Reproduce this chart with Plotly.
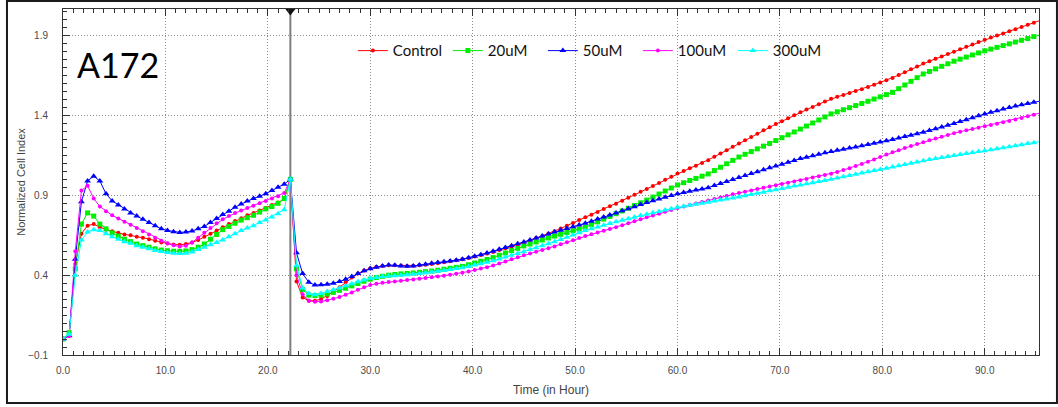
import numpy as np
import plotly.graph_objects as go

# Sampling schedule (hours): one reading every 0.6 h over the whole run
time_h = np.round(np.arange(0, 95.41, 0.6), 1)
treatment_time = 22.2

series_names = ["Control", "20uM", "50uM", "100uM", "300uM"]

# Normalized cell index per condition (first 38 readings: before treatment)
control = [
    0.0, 0.02, 0.47, 0.66, 0.71, 0.72, 0.70, 0.685, 0.675, 0.665,
    0.655, 0.65, 0.64, 0.635, 0.625, 0.615, 0.605, 0.598, 0.592, 0.59,
    0.595, 0.605, 0.62, 0.64, 0.66, 0.68, 0.70, 0.72, 0.74, 0.757,
    0.775, 0.79, 0.805, 0.82, 0.84, 0.855, 0.875, 1.0,
    0.36, 0.26, 0.24, 0.24, 0.25, 0.27, 0.295, 0.325, 0.355, 0.385,
    0.41, 0.43, 0.443, 0.452, 0.458, 0.462, 0.462, 0.46, 0.458, 0.459,
    0.462, 0.466, 0.47, 0.475, 0.481, 0.487, 0.493, 0.50, 0.508, 0.517,
    0.526, 0.535, 0.545, 0.557, 0.568, 0.58, 0.591, 0.603, 0.617, 0.632,
    0.646, 0.661, 0.675, 0.692, 0.71, 0.727, 0.745, 0.762, 0.779, 0.796,
    0.814, 0.831, 0.848, 0.866, 0.885, 0.903, 0.922, 0.94, 0.959, 0.978,
    0.998, 1.017, 1.036, 1.053, 1.07, 1.086, 1.103, 1.12, 1.141, 1.162,
    1.183, 1.204, 1.225, 1.245, 1.266, 1.286, 1.307, 1.327, 1.346, 1.364,
    1.383, 1.401, 1.42, 1.437, 1.454, 1.471, 1.488, 1.505, 1.517, 1.529,
    1.541, 1.553, 1.565, 1.579, 1.593, 1.607, 1.621, 1.635, 1.653, 1.671,
    1.689, 1.707, 1.725, 1.74, 1.755, 1.77, 1.785, 1.80, 1.815, 1.83,
    1.845, 1.86, 1.875, 1.888, 1.901, 1.914, 1.927, 1.94, 1.954, 1.968,
    1.981, 1.995,
]
um20 = [
    0.0, 0.04, 0.44, 0.72, 0.79, 0.77, 0.72, 0.69, 0.665, 0.645,
    0.625, 0.61, 0.595, 0.585, 0.575, 0.565, 0.557, 0.553, 0.55, 0.549,
    0.552, 0.56, 0.575, 0.595, 0.625, 0.655, 0.685, 0.705, 0.725, 0.745,
    0.76, 0.775, 0.795, 0.815, 0.83, 0.85, 0.88, 1.0,
    0.44, 0.31, 0.275, 0.272, 0.275, 0.282, 0.292, 0.305, 0.318, 0.333,
    0.348, 0.362, 0.375, 0.385, 0.393, 0.40, 0.404, 0.408, 0.411, 0.414,
    0.418, 0.422, 0.426, 0.431, 0.437, 0.443, 0.449, 0.455, 0.465, 0.476,
    0.487, 0.498, 0.51, 0.525, 0.539, 0.554, 0.568, 0.583, 0.595, 0.608,
    0.62, 0.633, 0.645, 0.656, 0.667, 0.678, 0.689, 0.70, 0.717, 0.734,
    0.751, 0.768, 0.785, 0.802, 0.819, 0.836, 0.853, 0.87, 0.889, 0.908,
    0.927, 0.946, 0.965, 0.979, 0.993, 1.006, 1.02, 1.034, 1.055, 1.076,
    1.098, 1.119, 1.14, 1.157, 1.174, 1.191, 1.208, 1.225, 1.243, 1.261,
    1.279, 1.297, 1.315, 1.334, 1.353, 1.372, 1.391, 1.41, 1.423, 1.436,
    1.449, 1.462, 1.475, 1.489, 1.503, 1.517, 1.531, 1.545, 1.568, 1.591,
    1.614, 1.637, 1.66, 1.676, 1.692, 1.708, 1.724, 1.74, 1.753, 1.766,
    1.779, 1.792, 1.805, 1.816, 1.827, 1.838, 1.849, 1.86, 1.871, 1.882,
    1.894, 1.905,
]
um50 = [
    0.0, 0.02, 0.50, 0.86, 0.99, 1.02, 0.99, 0.91, 0.865, 0.84,
    0.815, 0.79, 0.77, 0.75, 0.73, 0.71, 0.69, 0.68, 0.672, 0.668,
    0.67, 0.677, 0.69, 0.705, 0.73, 0.755, 0.78, 0.80, 0.825, 0.845,
    0.865, 0.88, 0.895, 0.91, 0.93, 0.95, 0.97, 1.0,
    0.54, 0.41, 0.355, 0.338, 0.34, 0.343, 0.35, 0.36, 0.375, 0.392,
    0.41, 0.428, 0.44, 0.45, 0.458, 0.463, 0.462, 0.458, 0.456, 0.458,
    0.463, 0.469, 0.475, 0.479, 0.484, 0.489, 0.494, 0.50, 0.509, 0.518,
    0.528, 0.539, 0.55, 0.562, 0.573, 0.585, 0.596, 0.608, 0.62, 0.633,
    0.645, 0.658, 0.67, 0.681, 0.692, 0.703, 0.714, 0.725, 0.738, 0.751,
    0.764, 0.777, 0.79, 0.803, 0.816, 0.829, 0.842, 0.855, 0.866, 0.877,
    0.888, 0.899, 0.91, 0.918, 0.925, 0.933, 0.94, 0.948, 0.961, 0.974,
    0.986, 0.999, 1.012, 1.024, 1.036, 1.048, 1.06, 1.072, 1.084, 1.095,
    1.107, 1.118, 1.13, 1.139, 1.148, 1.157, 1.166, 1.175, 1.182, 1.189,
    1.196, 1.203, 1.21, 1.218, 1.226, 1.234, 1.242, 1.25, 1.259, 1.268,
    1.277, 1.286, 1.295, 1.306, 1.317, 1.328, 1.339, 1.35, 1.362, 1.374,
    1.386, 1.398, 1.41, 1.42, 1.43, 1.44, 1.45, 1.46, 1.468, 1.475,
    1.483, 1.49,
]
um100 = [
    0.0, 0.02, 0.55, 0.93, 0.96, 0.88, 0.83, 0.80, 0.775, 0.755,
    0.735, 0.715, 0.695, 0.675, 0.655, 0.635, 0.615, 0.60, 0.587, 0.58,
    0.585, 0.605, 0.635, 0.665, 0.695, 0.725, 0.75, 0.77, 0.79, 0.805,
    0.82, 0.835, 0.85, 0.865, 0.88, 0.895, 0.915, 1.0,
    0.40, 0.28, 0.24, 0.233, 0.235, 0.243, 0.252, 0.263, 0.277, 0.292,
    0.308, 0.325, 0.338, 0.346, 0.352, 0.357, 0.361, 0.365, 0.369, 0.373,
    0.377, 0.382, 0.387, 0.392, 0.397, 0.403, 0.409, 0.415, 0.423, 0.432,
    0.441, 0.45, 0.46, 0.473, 0.486, 0.499, 0.512, 0.525, 0.536, 0.547,
    0.558, 0.569, 0.58, 0.593, 0.606, 0.619, 0.632, 0.645, 0.656, 0.667,
    0.678, 0.689, 0.70, 0.712, 0.725, 0.737, 0.75, 0.762, 0.774, 0.785,
    0.797, 0.808, 0.82, 0.83, 0.839, 0.849, 0.858, 0.868, 0.877, 0.887,
    0.896, 0.906, 0.915, 0.923, 0.931, 0.939, 0.947, 0.955, 0.963, 0.971,
    0.979, 0.987, 0.995, 1.003, 1.011, 1.019, 1.027, 1.035, 1.046, 1.058,
    1.07, 1.083, 1.096, 1.11, 1.125, 1.14, 1.155, 1.17, 1.183, 1.196,
    1.209, 1.221, 1.233, 1.245, 1.256, 1.267, 1.278, 1.289, 1.298, 1.307,
    1.315, 1.324, 1.332, 1.341, 1.349, 1.358, 1.366, 1.375, 1.385, 1.395,
    1.405, 1.415,
]
um300 = [
    0.0, 0.03, 0.40, 0.62, 0.67, 0.685, 0.68, 0.66, 0.64, 0.625,
    0.61, 0.60, 0.585, 0.575, 0.565, 0.555, 0.548, 0.542, 0.537, 0.535,
    0.537, 0.545, 0.56, 0.575, 0.59, 0.605, 0.62, 0.64, 0.66, 0.68,
    0.695, 0.71, 0.73, 0.745, 0.765, 0.785, 0.81, 1.0,
    0.46, 0.32, 0.285, 0.278, 0.285, 0.297, 0.308, 0.32, 0.333, 0.346,
    0.358, 0.37, 0.38, 0.386, 0.391, 0.394, 0.397, 0.40, 0.403, 0.407,
    0.411, 0.415, 0.42, 0.425, 0.43, 0.436, 0.441, 0.447, 0.455, 0.463,
    0.472, 0.481, 0.49, 0.501, 0.513, 0.524, 0.536, 0.547, 0.56, 0.572,
    0.585, 0.597, 0.61, 0.624, 0.638, 0.652, 0.666, 0.68, 0.691, 0.702,
    0.713, 0.724, 0.735, 0.744, 0.754, 0.763, 0.773, 0.782, 0.791, 0.799,
    0.808, 0.816, 0.825, 0.831, 0.838, 0.844, 0.851, 0.857, 0.864, 0.87,
    0.877, 0.883, 0.89, 0.898, 0.905, 0.913, 0.92, 0.928, 0.935, 0.943,
    0.95, 0.958, 0.965, 0.972, 0.979, 0.986, 0.993, 1.0, 1.008, 1.016,
    1.024, 1.032, 1.04, 1.047, 1.055, 1.062, 1.07, 1.077, 1.085, 1.093,
    1.101, 1.109, 1.117, 1.124, 1.13, 1.137, 1.143, 1.15, 1.156, 1.162,
    1.168, 1.174, 1.18, 1.186, 1.192, 1.198, 1.204, 1.21, 1.217, 1.224,
    1.23, 1.237,
]

series_values = [control, um20, um50, um100, um300]
colors = ["#ff0000", "#00ee00", "#0000ff", "#ff00ff", "#00ffff"]
symbols = ["circle", "square", "triangle-up", "circle", "triangle-up"]
sizes = [4, 5, 6, 4, 6]

x_ticks = [0, 10, 20, 30, 40, 50, 60, 70, 80, 90]
y_ticks = [-0.1, 0.4, 0.9, 1.4, 1.9]

fig = go.Figure()

for name, vals, col, sym, sz in zip(series_names, series_values, colors, symbols, sizes):
    fig.add_trace(go.Scatter(
        x=time_h, y=vals, name=name, mode="lines+markers",
        line=dict(color=col, width=1),
        marker=dict(color=col, symbol=sym, size=sz, line=dict(width=0)),
    ))

# Treatment marker: vertical line plus a flag on the top axis
fig.add_vline(x=treatment_time, line=dict(color="#7f7f7f", width=2), layer="below")
fig.add_trace(go.Scatter(
    x=[treatment_time], y=[2.055], mode="markers", showlegend=False,
    marker=dict(symbol="triangle-down", size=9, color="#111111"),
    cliponaxis=False, hoverinfo="skip",
))

axis_font = "Liberation Sans, Arial, sans-serif"
tick_font = dict(family=axis_font, size=10, color="#4a4a4a")
grid_dash = "1px,2px"

fig.update_xaxes(
    range=[0, 95.3], tickvals=x_ticks, tickformat=".1f",
    showline=True, linecolor="#333333", linewidth=1, mirror="ticks",
    ticks="inside", ticklen=7, tickcolor="#333333", ticklabelstandoff=6,
    minor=dict(dtick=1, tick0=0, ticks="inside", ticklen=4, tickcolor="#333333", showgrid=False),
    showgrid=True, gridcolor="#8c8c8c", griddash=grid_dash, gridwidth=1,
    zeroline=False, tickfont=tick_font,
    title=dict(text="Time (in Hour)", font=dict(family=axis_font, size=12, color="#444444"), standoff=10),
)
fig.update_yaxes(
    range=[-0.1, 2.067], tickvals=y_ticks, tickformat=".1f",
    showline=True, linecolor="#333333", linewidth=1, mirror=True,
    ticks="inside", ticklen=7, tickcolor="#333333", ticklabelstandoff=12,
    minor=dict(dtick=0.05, tick0=-0.1, ticks="inside", ticklen=4, tickcolor="#333333", showgrid=False),
    showgrid=True, gridcolor="#8c8c8c", griddash=grid_dash, gridwidth=1,
    zeroline=False, tickfont=tick_font,
    title=dict(text="Normalized Cell Index", font=dict(family=axis_font, size=11, color="#444444"), standoff=0),
)

# Cell line label
fig.add_annotation(
    text="A172", xref="paper", yref="paper", x=0.012, y=0.84,
    xanchor="left", yanchor="middle", showarrow=False,
    font=dict(family="Lato, sans-serif", size=34, color="#000000"),
)

# Outer frame around the whole figure
fig.add_shape(
    type="rect", xref="paper", yref="paper",
    x0=-0.0574, x1=1.0184, y0=-0.1387, y1=1.0231,
    line=dict(color="#1a1a1a", width=2), fillcolor="rgba(0,0,0,0)",
)

fig.update_layout(
    width=1058, height=407, autosize=False,
    margin=dict(l=63, r=19, t=9, b=52, pad=0, autoexpand=False),
    paper_bgcolor="white", plot_bgcolor="white",
    legend=dict(
        orientation="h", x=0.297, y=0.879, xanchor="left", yanchor="middle",
        entrywidth=50, entrywidthmode="pixels", bgcolor="rgba(0,0,0,0)",
        font=dict(family="Lato, sans-serif", size=15, color="#111111"),
        itemclick=False, tracegroupgap=0,
    ),
    showlegend=True,
)

fig.write_html("out.html")
